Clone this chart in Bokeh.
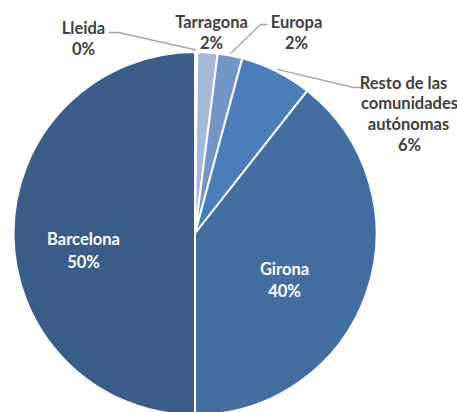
import math
from bokeh.plotting import figure
from bokeh.models import Range1d, ColumnDataSource
from bokeh.core.properties import value
from bokeh.embed import file_html
from bokeh.resources import INLINE

# data
categories = ["Lleida", "Tarragona", "Europa", "Resto de las comunidades autónomas", "Girona", "Barcelona"]
shares = [0.2, 1.8, 2.2, 6.4, 39.4, 50.0]
pct_labels = ["0%", "2%", "2%", "6%", "40%", "50%"]
colors = ["#C9D3E8", "#A5B8DA", "#7395C8", "#4A7EBB", "#426EA2", "#3A5D89"]

W, H = 457, 412
cx, cy, R = 194.5, H - 233, 181.5

p = figure(width=W, height=H, output_backend="svg", toolbar_location=None,
           x_range=Range1d(0, W), y_range=Range1d(0, H), min_border=0)
p.axis.visible = False
p.grid.visible = False
p.outline_line_color = None
p.background_fill_color = "white"

total = sum(shares)
starts, ends, mids = [], [], []
acc = 0.0
for s in shares:
    a0 = math.pi / 2 - 2 * math.pi * acc / total
    acc += s
    a1 = math.pi / 2 - 2 * math.pi * acc / total
    starts.append(a0); ends.append(a1); mids.append((a0 + a1) / 2)

src = ColumnDataSource(dict(x=[cx] * len(shares), y=[cy] * len(shares),
                            start=starts, end=ends, color=colors))
p.wedge(x="x", y="y", radius=R, start_angle="start", end_angle="end",
        direction="clock", fill_color="color", line_color="white", line_width=2,
        source=src)

font = value("Lato")
dark = "#404040"
fs = "16.5px"

def pt(angle, r):
    return cx + r * math.cos(angle), cy + r * math.sin(angle)

# leader lines (label anchor -> slice edge)
leaders = {
    0: [(108, H - 32), (118, H - 32)],
    2: [(267, H - 24), (260, H - 24)],
    3: [(363, H - 87), (353, H - 87)],
}
for i, pts in leaders.items():
    ex, ey = pt(mids[i], R + 2)
    xs = [q[0] for q in pts] + [ex]
    ys = [q[1] for q in pts] + [ey]
    p.line(xs, ys, line_color="#A6A6A6", line_width=1.3)

# outside labels
out_x, out_y, out_t = [], [], []
def add(x, y_px, t):
    out_x.append(x); out_y.append(H - y_px); out_t.append(t)

add(83, 27, categories[0]); add(83, 48, pct_labels[0])
add(211, 21, categories[1]); add(211, 42, pct_labels[1])
add(296, 21, categories[2]); add(296, 42, pct_labels[2])
add(403, 82, "Resto de las"); add(409, 102, "comunidades")
add(408, 123, "autónomas"); add(409, 144, pct_labels[3])
p.text(x=out_x, y=out_y, text=out_t, text_font=font, text_font_style="bold",
       text_font_size=fs, text_color=dark, text_align="center",
       text_baseline="middle")

in_x, in_y, in_t = [], [], []
for x, yp, t in [(83, 238, categories[5]), (83, 261, pct_labels[5]),
                 (284, 268, categories[4]), (284, 290, pct_labels[4])]:
    in_x.append(x); in_y.append(H - yp); in_t.append(t)
p.text(x=in_x, y=in_y, text=in_t, text_font=font, text_font_style="bold",
       text_font_size=fs, text_color="white", text_align="center",
       text_baseline="middle")

open("out.html", "w").write(file_html(p, INLINE))
